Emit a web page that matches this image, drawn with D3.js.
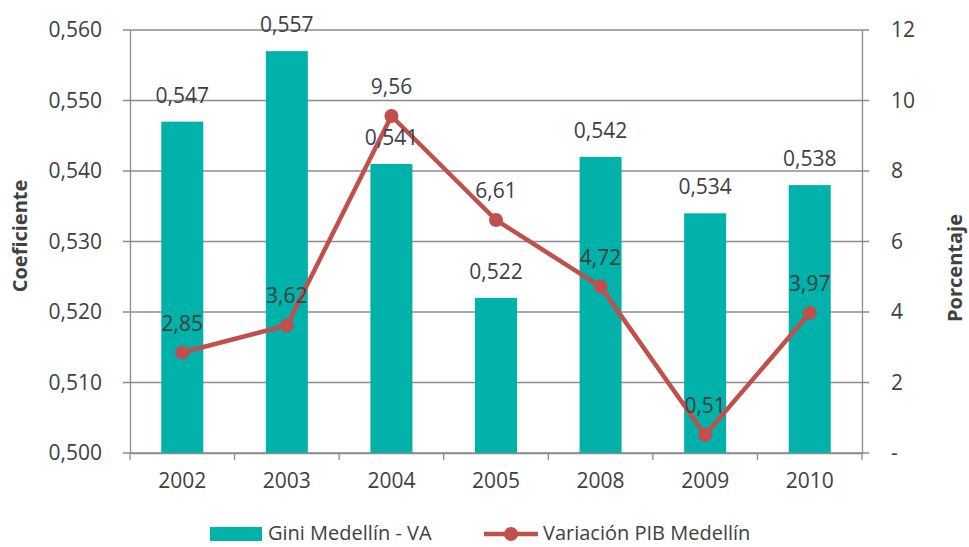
<!DOCTYPE html>
<html>
<head>
<meta charset="utf-8">
<script src="https://cdn.jsdelivr.net/npm/d3@7"></script>
<style>
  body { margin: 0; background: #fff; }
  text { font-family: "Open Sans", sans-serif; fill: #404040; }
</style>
</head>
<body>
<div id="chart"></div>
<script>
// Data
const years = ['2002', '2003', '2004', '2005', '2008', '2009', '2010'];
const gini = [0.547, 0.557, 0.541, 0.522, 0.542, 0.534, 0.538];
const pib = [2.85, 3.62, 9.56, 6.61, 4.72, 0.51, 3.97];
const giniTicks = [0.500, 0.510, 0.520, 0.530, 0.540, 0.550, 0.560];
const pibTicks = [0, 2, 4, 6, 8, 10, 12];

const width = 969, height = 547;
const margin = { top: 30, right: 107, bottom: 94, left: 130 };
const teal = '#00B2A9', red = '#C0504D', grid = '#8C8C8C';
const comma = d3.format('.3f');
const fmtGini = d => comma(d).replace('.', ',');
const fmtPib = d => d === 0 ? '-' : String(d).replace('.', ',');

const svg = d3.select('#chart').append('svg')
    .attr('width', width)
    .attr('height', height);

const x = d3.scaleBand(years, [margin.left, width - margin.right]);
const yL = d3.scaleLinear([0.5, 0.56], [height - margin.bottom, margin.top]);
const yR = d3.scaleLinear([0, 12], [height - margin.bottom, margin.top]);

// gridlines
svg.append('g')
    .selectAll('line')
    .data(giniTicks)
    .join('line')
    .attr('x1', margin.left - 7)
    .attr('x2', width - margin.right + 7)
    .attr('y1', d => yL(d))
    .attr('y2', d => yL(d))
    .attr('stroke', grid)
    .attr('stroke-width', 1.3);

// bars
const barW = 42;
svg.append('g')
    .selectAll('rect')
    .data(gini)
    .join('rect')
    .attr('x', (d, i) => x(years[i]) + x.bandwidth() / 2 - barW / 2)
    .attr('y', d => yL(d))
    .attr('width', barW)
    .attr('height', d => yL(0.5) - yL(d))
    .attr('fill', teal);

// left axis
const axisL = svg.append('g')
    .attr('transform', `translate(${margin.left},0)`)
    .call(d3.axisLeft(yL).tickValues(giniTicks).tickFormat(fmtGini).tickSize(0).tickPadding(28));
axisL.select('.domain').attr('stroke', grid).attr('stroke-width', 1.3);
axisL.selectAll('text').style('font-size', '21px').attr('fill', '#404040');

// right axis
const axisR = svg.append('g')
    .attr('transform', `translate(${width - margin.right},0)`)
    .call(d3.axisRight(yR).tickValues(pibTicks).tickFormat(fmtPib).tickSize(0).tickPadding(29));
axisR.select('.domain').attr('stroke', grid).attr('stroke-width', 1.3);
axisR.selectAll('text').style('font-size', '21px').attr('fill', '#404040');

// bottom axis
const axisB = svg.append('g')
    .attr('transform', `translate(0,${height - margin.bottom})`)
    .call(d3.axisBottom(x).tickSize(0).tickPadding(20));
axisB.select('.domain').attr('stroke', grid).attr('stroke-width', 1.3);
axisB.selectAll('text').style('font-size', '21px').attr('fill', '#404040');
svg.append('g')
    .selectAll('line')
    .data(years.concat(['end']))
    .join('line')
    .attr('x1', (d, i) => margin.left + i * x.step())
    .attr('x2', (d, i) => margin.left + i * x.step())
    .attr('y1', height - margin.bottom)
    .attr('y2', height - margin.bottom + 7)
    .attr('stroke', grid)
    .attr('stroke-width', 1.3);

// line
const cx = (d, i) => x(years[i]) + x.bandwidth() / 2;
svg.append('path')
    .datum(pib)
    .attr('d', d3.line().x(cx).y(d => yR(d)))
    .attr('fill', 'none')
    .attr('stroke', red)
    .attr('stroke-width', 4.5)
    .attr('stroke-linejoin', 'round');
svg.append('g')
    .selectAll('circle')
    .data(pib)
    .join('circle')
    .attr('cx', cx)
    .attr('cy', d => yR(d))
    .attr('r', 7)
    .attr('fill', red);

// labels
svg.append('g')
    .selectAll('text')
    .data(gini)
    .join('text')
    .attr('x', cx)
    .attr('y', d => yL(d) - 19)
    .attr('text-anchor', 'middle')
    .style('font-size', '21px')
    .text(fmtGini);
svg.append('g')
    .selectAll('text')
    .data(pib)
    .join('text')
    .attr('x', cx)
    .attr('y', d => yR(d) - 22)
    .attr('text-anchor', 'middle')
    .style('font-size', '21px')
    .text(fmtPib);

// axis titles
svg.append('text')
    .attr('transform', 'translate(27,236) rotate(-90)')
    .attr('text-anchor', 'middle')
    .style('font-size', '20px')
    .style('font-weight', 'bold')
    .text('Coeficiente');
svg.append('text')
    .attr('transform', 'translate(962,268) rotate(-90)')
    .attr('text-anchor', 'middle')
    .style('font-size', '20px')
    .style('font-weight', 'bold')
    .text('Porcentaje');

// legend
const lg = svg.append('g');
lg.append('rect')
    .attr('x', 210).attr('y', 527)
    .attr('width', 52).attr('height', 14)
    .attr('fill', teal);
lg.append('text')
    .attr('x', 268).attr('y', 540)
    .style('font-size', '20px')
    .text('Gini Medellín - VA');
lg.append('line')
    .attr('x1', 484).attr('x2', 538)
    .attr('y1', 534).attr('y2', 534)
    .attr('stroke', red).attr('stroke-width', 4.5);
lg.append('circle')
    .attr('cx', 511).attr('cy', 534).attr('r', 7)
    .attr('fill', red);
lg.append('text')
    .attr('x', 543).attr('y', 540)
    .style('font-size', '20px')
    .text('Variación PIB Medellín');
</script>
</body>
</html>
